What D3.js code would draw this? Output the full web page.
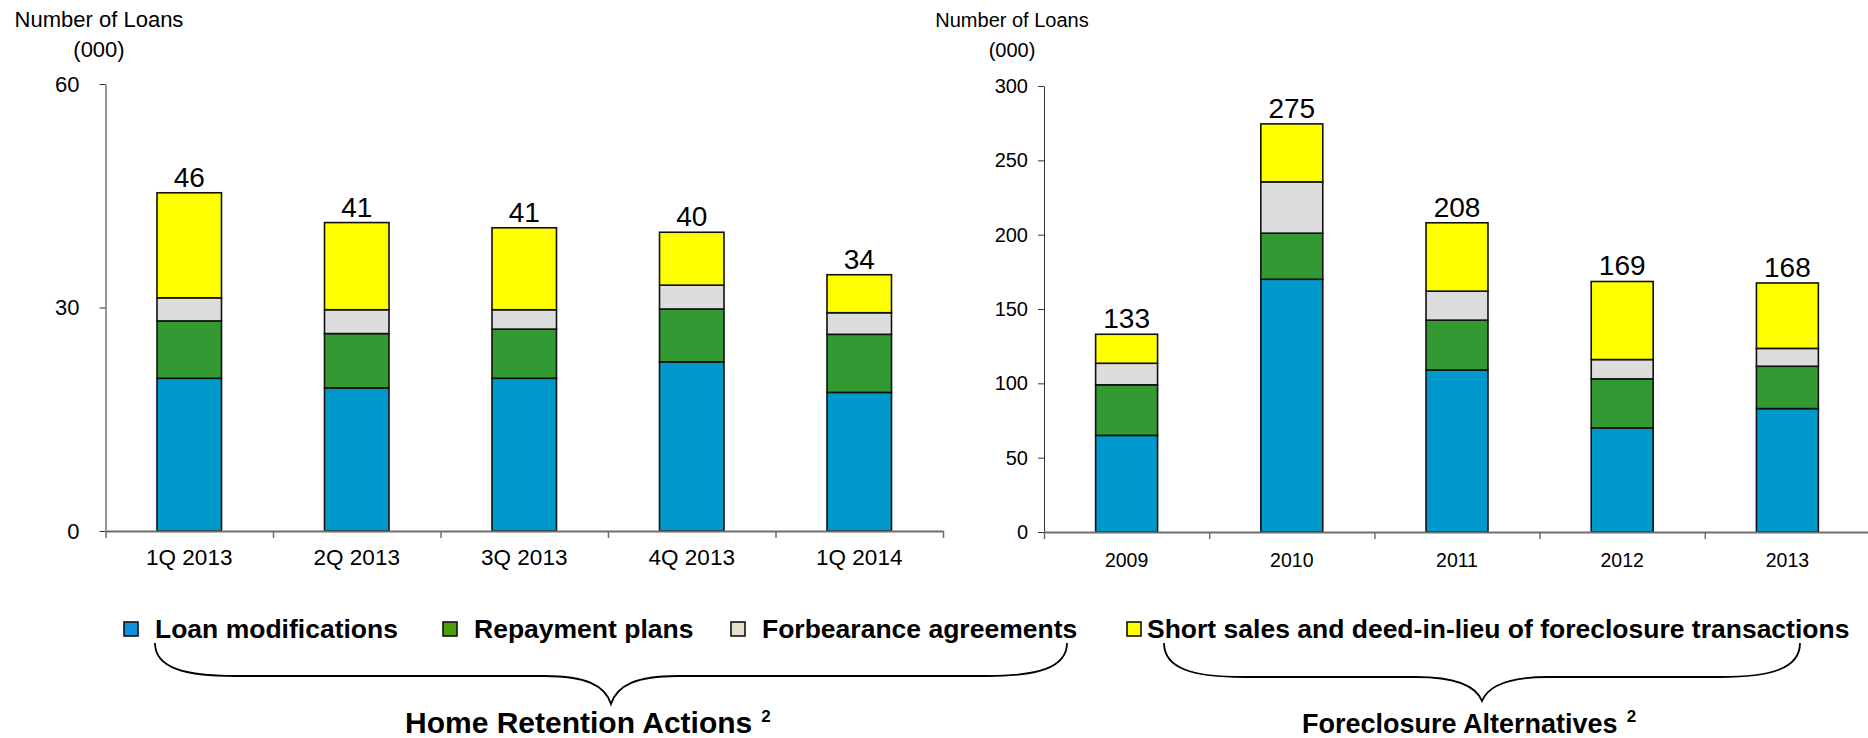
<!DOCTYPE html>
<html>
<head>
<meta charset="utf-8">
<script src="https://cdn.jsdelivr.net/npm/d3@7"></script>
<style>
  body { margin: 0; background: #fff; }
  svg { display: block; font-family: Arial, 'Liberation Sans', sans-serif; }
</style>
</head>
<body>
<svg id="chart" width="1868" height="738"></svg>
<script>
// home retention actions (000 loans)
const quarters = ['1Q 2013', '2Q 2013', '3Q 2013', '4Q 2013', '1Q 2014'];
const loanModQ = [20.5, 19.2, 20.5, 22.7, 18.6];
const repayQ = [7.7, 7.3, 6.6, 7.1, 7.8];
const forbQ = [3.1, 3.2, 2.6, 3.2, 2.9];
const shortQ = [14.1, 11.7, 11.0, 7.1, 5.1];
const totalsQ = [46, 41, 41, 40, 34];
const ticksQ = [0, 30, 60];

// foreclosure alternatives (000 loans)
const years = ['2009', '2010', '2011', '2012', '2013'];
const loanModY = [65, 170, 109, 70, 83];
const repayY = [34, 31, 33.5, 33, 28.5];
const forbY = [14.5, 34.5, 19.5, 13, 12];
const shortY = [19.5, 39, 46, 52.5, 44];
const totalsY = [133, 275, 208, 169, 168];
const ticksY = [0, 50, 100, 150, 200, 250, 300];

const seriesNames = ['Loan modifications', 'Repayment plans', 'Forbearance agreements',
  'Short sales and deed-in-lieu of foreclosure transactions'];
const keys = ['loan', 'repay', 'forb', 'short'];
const barColors = ['#0099cc', '#339933', '#dddddd', '#ffff00'];
const legendColors = ['#1190dc', '#4c9c0c', '#e4e0cc', '#ffff00'];

const svg = d3.select('#chart');

function drawPanel(cfg) {
  const g = svg.append('g');
  const rows = cfg.cats.map((c, i) => ({
    cat: c, loan: cfg.loan[i], repay: cfg.repay[i], forb: cfg.forb[i], short: cfg.short[i]
  }));

  const x = d3.scaleBand()
    .domain(cfg.cats)
    .range([cfg.left, cfg.right])
    .paddingInner(cfg.pad)
    .paddingOuter(cfg.pad / 2);
  const y = d3.scaleLinear()
    .domain([0, cfg.max])
    .range([cfg.bottom, cfg.top]);

  const stacked = d3.stack().keys(keys)(rows);

  g.selectAll('.layer')
    .data(stacked).join('g')
    .attr('class', 'layer')
    .attr('fill', (d, i) => barColors[i])
    .selectAll('rect')
    .data(d => d).join('rect')
    .attr('x', d => x(d.data.cat))
    .attr('y', d => y(d[1]))
    .attr('width', x.bandwidth())
    .attr('height', d => y(d[0]) - y(d[1]))
    .attr('stroke', '#111')
    .attr('stroke-width', 1.6);

  // totals above the bars
  g.selectAll('.total')
    .data(rows).join('text')
    .attr('class', 'total')
    .attr('x', d => x(d.cat) + x.bandwidth() / 2)
    .attr('y', d => y(d.loan + d.repay + d.forb + d.short) - 6)
    .attr('text-anchor', 'middle')
    .attr('font-size', 28)
    .attr('fill', '#000')
    .text((d, i) => cfg.totals[i]);

  // y axis
  const yAxis = d3.axisLeft(y).tickValues(cfg.ticks).tickSize(6).tickSizeOuter(0)
    .tickPadding(cfg.yPad);
  const yG = g.append('g')
    .attr('transform', `translate(${cfg.left},0)`)
    .call(yAxis);
  yG.select('.domain').attr('stroke', '#333');
  yG.selectAll('.tick line').attr('stroke', '#333');
  yG.selectAll('.tick text').attr('font-size', cfg.tickFont).attr('fill', '#000')
    .attr('font-family', null);

  // x axis line and the ticks between categories
  const xEdge = d3.scaleLinear().domain([0, cfg.cats.length]).range([cfg.left, cfg.right]);
  const xAxis = d3.axisBottom(xEdge).tickValues(d3.range(cfg.cats.length + 1))
    .tickFormat('').tickSize(7).tickSizeOuter(0);
  const xG = g.append('g')
    .attr('transform', `translate(0,${cfg.bottom})`)
    .call(xAxis);
  xG.select('.domain').attr('stroke', '#6e6e6e').attr('stroke-width', 2);
  xG.selectAll('.tick line').attr('stroke', '#6e6e6e').attr('stroke-width', 1.5);

  const labG = g.append('g')
    .attr('transform', `translate(0,${cfg.bottom})`)
    .call(d3.axisBottom(x).tickSize(0).tickPadding(cfg.xPad));
  labG.select('.domain').remove();
  labG.selectAll('.tick text').attr('font-size', cfg.catFont).attr('fill', '#000')
    .attr('font-family', null);

  // unit title
  const t = g.append('text')
    .attr('text-anchor', 'middle')
    .attr('font-size', cfg.titleFont)
    .attr('fill', '#000');
  t.append('tspan').attr('x', cfg.titleX).attr('y', 27).text('Number of Loans');
  t.append('tspan').attr('x', cfg.titleX).attr('y', 57).text('(000)');
}

drawPanel({
  cats: quarters, loan: loanModQ, repay: repayQ, forb: forbQ, short: shortQ, totals: totalsQ,
  ticks: ticksQ, max: 60, left: 105.5, right: 943, top: 84, bottom: 531, pad: 0.615,
  tickFont: 22, catFont: 22.5, yPad: 20, xPad: 18, titleFont: 22, titleX: 99
});
drawPanel({
  cats: years, loan: loanModY, repay: repayY, forb: forbY, short: shortY, totals: totalsY,
  ticks: ticksY, max: 300, left: 1044, right: 1870, top: 86, bottom: 532, pad: 0.625,
  tickFont: 20, catFont: 19.5, yPad: 10, xPad: 21, titleFont: 20, titleX: 1012
});

// legend
const legendX = [124, 443, 731, 1127];
const legend = svg.selectAll('.legend')
  .data(seriesNames).join('g')
  .attr('class', 'legend')
  .attr('transform', (d, i) => `translate(${legendX[i]},622)`);
legend.append('rect')
  .attr('width', 14).attr('height', 14)
  .attr('fill', (d, i) => legendColors[i])
  .attr('stroke', '#111').attr('stroke-width', 1.6);
legend.append('text')
  .attr('x', (d, i) => i === 3 ? 20 : 31)
  .attr('y', 16)
  .attr('font-size', 26.5)
  .attr('font-weight', 'bold')
  .attr('fill', '#000')
  .text(d => d);

// curly braces under the legend
function brace(x0, x1, yTop, yFlat, yPoint) {
  const xm = (x0 + x1) / 2;
  return `M${x0},${yTop} C${x0},${yFlat - 8} ${x0 + 30},${yFlat} ${x0 + 80},${yFlat}` +
    ` L${xm - 66},${yFlat} C${xm - 26},${yFlat} ${xm - 6},${yFlat + 9} ${xm},${yPoint}` +
    ` C${xm + 6},${yFlat + 9} ${xm + 26},${yFlat} ${xm + 66},${yFlat}` +
    ` L${x1 - 80},${yFlat} C${x1 - 30},${yFlat} ${x1},${yFlat - 8} ${x1},${yTop}`;
}
svg.append('path').attr('d', brace(155, 1067, 643, 676, 704))
  .attr('fill', 'none').attr('stroke', '#000').attr('stroke-width', 1.8);
svg.append('path').attr('d', brace(1164, 1800, 643, 677, 701))
  .attr('fill', 'none').attr('stroke', '#000').attr('stroke-width', 1.8);

// group titles, each with a footnote mark
const groupTitles = [['Home Retention Actions', 405, 30], ['Foreclosure Alternatives', 1302, 27]];
groupTitles.forEach(([label, gx, size]) => {
  const t = svg.append('text')
    .attr('x', gx).attr('y', 733)
    .attr('font-size', size)
    .attr('font-weight', 'bold')
    .attr('fill', '#000')
    .text(label);
  const w = t.node().getComputedTextLength();
  svg.append('text')
    .attr('x', gx + w + 9).attr('y', 722)
    .attr('font-size', 17)
    .attr('font-weight', 'bold')
    .attr('fill', '#000')
    .text('2');
});
</script>
</body>
</html>
